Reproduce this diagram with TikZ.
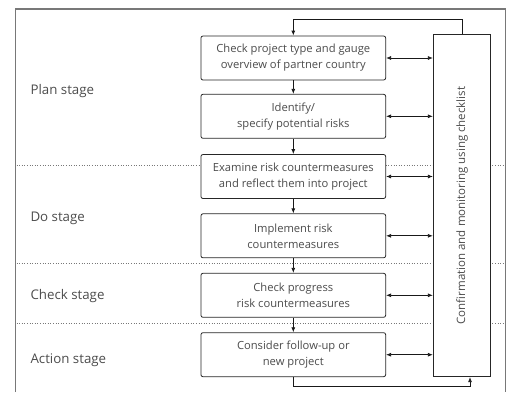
\documentclass[tikz,border=0pt]{standalone}
\usepackage{fontspec}
\setmainfont{Open Sans}
\usepackage{tikz}
\usetikzlibrary{arrows.meta}
\definecolor{framegray}{rgb}{0.47,0.47,0.47}
\definecolor{textgray}{rgb}{0.3,0.3,0.3}

\begin{document}
\begin{tikzpicture}[
  x=1pt,y=-1pt,
  >={Latex[length=5pt,width=4pt]},
  stepbox/.style={draw=black!85,fill=white,rounded corners=2pt,line width=0.8pt,
    minimum width=184.7pt,minimum height=44pt,align=center,inner sep=1pt,
    font=\fontsize{11.2}{16}\selectfont,text=textgray},
  stage/.style={anchor=west,font=\fontsize{13.3}{15}\selectfont,text=textgray},
  divider/.style={framegray,dotted,line width=0.6pt},
  link/.style={black!90,line width=0.8pt},
  ]
  \useasboundingbox (0,0) rectangle (511,392);
  % Frame
  \draw[framegray,line width=1.4pt] (15.7,392) |- (505.7,9) -- (505.7,392);
  % Stage dividers
  \draw[divider] (16.5,165) -- (505,165);
  \draw[divider] (16.5,263) -- (505,263);
  \draw[divider] (16.5,323.5) -- (505,323.5);
  % Stages
  \node[stage] (plan) at (27,90.7) {Plan stage};
  \node[stage] (do) at (27,218) {Do stage};
  \node[stage] (chk) at (27,296) {Check stage};
  \node[stage] (act) at (27,360.7) {Action stage};
  % Steps
  \node[stepbox] (check) at (293.3,58) {Check project type and gauge\\overview of partner country};
  \node[stepbox] (identify) at (293.3,116.3) {Identify/\\specify potential risks};
  \node[stepbox] (examine) at (293.3,176.5) {Examine risk countermeasures\\and reflect them into project};
  \node[stepbox] (implement) at (293.3,235.8) {Implement risk\\countermeasures};
  \node[stepbox] (progress) at (293.3,295.3) {Check progress\\risk countermeasures};
  \node[stepbox] (consider) at (293.3,354.7) {Consider follow-up or\\new project};
  % Checklist
  \node[draw=black!85,fill=white,line width=0.8pt,minimum width=57.4pt,minimum height=342.4pt,
    text=textgray] (monitor) at (462,205.5)
    {\rotatebox{90}{\fontsize{11.5}{14}\selectfont Confirmation and monitoring using checklist}};
  % Flow
  \draw[link,->] (check) -- (identify);
  \draw[link,->] (identify) -- (examine);
  \draw[link,->] (examine) -- (implement);
  \draw[link,->] (implement) -- (progress);
  \draw[link,->] (progress) -- (consider);
  \foreach \s in {check,identify,examine,implement,progress,consider}
    \draw[link,<->] (\s.east) -- (\s.east -| monitor.west);
  % Loops
  \coordinate (toploop) at (293.3,19);
  \coordinate (botloop) at (470,386.7);
  \draw[link,->] (monitor.north) |- (toploop) -- (check.north);
  \draw[link,->] (consider.south) |- (botloop) -- (monitor.south -| botloop);
\end{tikzpicture}
\end{document}
